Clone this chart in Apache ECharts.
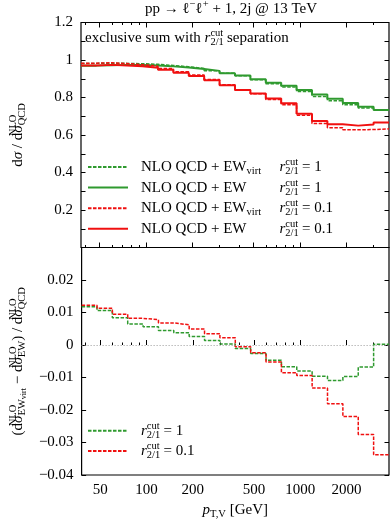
<!DOCTYPE html>
<html><head><meta charset="utf-8">
<script src="https://cdn.jsdelivr.net/npm/echarts@6/dist/echarts.min.js"></script>
<style>html,body{margin:0;padding:0;background:#fff}#c{width:390px;height:521px}</style>
</head><body><div id="c"></div>
<script>
// bin edges in GeV (log-uniform bins)
const binEdges = [37.8, 47.6, 59.9, 75.4, 94.9, 119.5, 150.4, 189.3, 238.3, 300.0, 377.7, 475.5, 598.6, 753.6, 948.7, 1194, 1503, 1892, 2382, 2999, 3776];
// top panel: ratio to NLO QCD
const ewVirtR1  = [0.982, 0.983, 0.982, 0.980, 0.977, 0.971, 0.964, 0.955, 0.943, 0.929, 0.916, 0.895, 0.874, 0.856, 0.832, 0.806, 0.783, 0.761, 0.744, 0.733];
const ewR1      = [0.970, 0.972, 0.974, 0.974, 0.971, 0.966, 0.960, 0.952, 0.942, 0.929, 0.917, 0.898, 0.879, 0.863, 0.840, 0.816, 0.794, 0.771, 0.751, 0.733];
const ewVirtR01 = [0.983, 0.985, 0.981, 0.975, 0.967, 0.955, 0.938, 0.920, 0.896, 0.868, 0.840, 0.820, 0.790, 0.761, 0.705, 0.662, 0.639, 0.628, 0.629, 0.633];
const ewR01     = [0.971, 0.974, 0.971, 0.967, 0.959, 0.948, 0.932, 0.915, 0.892, 0.866, 0.840, 0.822, 0.795, 0.769, 0.714, 0.675, 0.657, 0.650, 0.656, 0.667];
// bottom panel: (EWvirt - EW) / QCD
const diffR1  = [0.0118, 0.0106, 0.0084, 0.0065, 0.0056, 0.0045, 0.0038, 0.0026, 0.0014, 0.0003, -0.0011, -0.0026, -0.0047, -0.0067, -0.0080, -0.0096, -0.0109, -0.0097, -0.0068, 0.0002];
const diffR01 = [0.0122, 0.0113, 0.0095, 0.0082, 0.0078, 0.0068, 0.0062, 0.0049, 0.0035, 0.0022, -0.0005, -0.0024, -0.0052, -0.0085, -0.0094, -0.0132, -0.0181, -0.0220, -0.0275, -0.0338];
// x tick values (GeV)
const xMajorTicks = [50, 100, 200, 500, 1000, 2000];
const xMinorTicks = [40, 60, 70, 80, 90, 300, 400, 600, 700, 800, 900, 3000];

const F = "'Liberation Serif', serif";
const C = '#000';
const GREEN = '#2f9a2f', RED = '#f01010';
const L = v => Math.log10(v);
const xmin = L(binEdges[0]), xmax = L(binEdges[binEdges.length - 1]);

function steps(vals) {
  const pts = vals.map((v, i) => [L(binEdges[i]), v]);
  pts.push([L(binEdges[binEdges.length - 1]), vals[vals.length - 1]]);
  return pts;
}

function st(o) { return Object.assign({fontFamily: F, color: C, fontWeight: 'normal', fontStyle: 'normal'}, o); }
const R = {
  t:   st({fontSize: 15, lineHeight: 20}),
  it:  st({fontSize: 15, lineHeight: 20, fontStyle: 'italic'}),
  sup: st({fontSize: 10.5, lineHeight: 10, verticalAlign: 'top'}),
  sub: st({fontSize: 10.5, lineHeight: 11, verticalAlign: 'bottom'}),
  zs:  st({fontSize: 10.5, lineHeight: 9, verticalAlign: 'top', width: 0.01}),
  z:   st({fontSize: 10.5, lineHeight: 11, verticalAlign: 'bottom', width: 0.01}),
  ssb: st({fontSize: 8, lineHeight: 5, verticalAlign: 'bottom'}),
  vw:  st({fontSize: 10.5, lineHeight: 11, verticalAlign: 'bottom', width: 33}),
  vs:  st({fontSize: 10.5, lineHeight: 11, width: 33}),
  g:   st({fontSize: 10, lineHeight: 11, width: 8})
};

const rr = '{it|r}{z|2/1}{sup|cut}';
const legendText = {
  gV1:  '{g| }{t|NLO QCD + EW}{vw|virt}' + rr + '{t| = 1}',
  gE1:  '{g| }{t|NLO QCD + EW}{vs| }' + rr + '{t| = 1}',
  rV01: '{g| }{t|NLO QCD + EW}{vw|virt}' + rr + '{t| = 0.1}',
  rE01: '{g| }{t|NLO QCD + EW}{vs| }' + rr + '{t| = 0.1}',
  dR1:  '{g| }' + rr + '{t| = 1}',
  dR01: '{g| }' + rr + '{t| = 0.1}'
};

function xAx(grid, pos, ticks, len, labels) {
  return {
    type: 'value', gridIndex: grid, position: pos, min: xmin, max: xmax,
    axisLine: {show: false}, splitLine: {show: false},
    axisTick: {show: true, inside: true, length: len, customValues: ticks.map(L), lineStyle: {color: C, width: 1}},
    axisLabel: labels ? {show: true, customValues: ticks.map(L), margin: 8, fontFamily: F, fontSize: 15, color: C,
      formatter: v => String(Math.round(Math.pow(10, v)))} : {show: false}
  };
}

function fmtY(v, hide) {
  const r = Math.round(v * 1000) / 1000;
  if (hide.some(h => Math.abs(h - r) < 1e-9)) return '';
  return String(r).replace('-', '−');
}

function yAx(grid, pos, min, max, interval, minor, hide, labels, extra) {
  return Object.assign({
    type: 'value', gridIndex: grid, position: pos, min: min, max: max, interval: interval,
    axisLine: {show: false}, splitLine: {show: false},
    axisTick: {show: true, inside: true, length: 4.5, lineStyle: {color: C, width: 1}},
    minorTick: {show: minor > 1, splitNumber: minor, length: 4.5, lineStyle: {color: C, width: 1}},
    axisLabel: labels ? {show: true, margin: 8, fontFamily: F, fontSize: 15, color: C, formatter: v => fmtY(v, hide)} : {show: false}
  }, extra || {});
}

function ser(name, xi, yi, data, color, dashed, width) {
  return {
    name: name, type: 'line', xAxisIndex: xi, yAxisIndex: yi, data: steps(data), step: 'end',
    symbol: 'none', showSymbol: false, animation: false, silent: true,
    lineStyle: {color: color, width: width, type: dashed ? [3.5, 1.5] : 'solid'},
    itemStyle: {color: color}
  };
}

const zeroLine = {
  silent: true, symbol: 'none', label: {show: false}, animation: false,
  lineStyle: {color: '#999', type: [1, 2], width: 1},
  data: [{yAxis: 0}]
};

const bottomG = ser('dR1', 4, 2, diffR1, GREEN, true, 1.5);
bottomG.markLine = zeroLine;

const legendCommon = {
  orient: 'vertical', left: 87, padding: 0, itemWidth: 40, itemHeight: 14, selectedMode: false,
  itemStyle: {opacity: 0}, formatter: n => legendText[n], textStyle: {rich: R, fontWeight: 'normal'}
};

const chart = echarts.init(document.getElementById('c'), null, {renderer: 'canvas'});
chart.setOption({
  animation: false,
  backgroundColor: '#fff',
  title: [
    {text: '{t|pp → ℓ}{sup|−}{t|ℓ}{sup|+}{t| + 1, 2j @ 13 TeV}', left: 231, top: -1, textAlign: 'center', padding: 0,
     textStyle: {rich: R, fontWeight: 'normal'}},
    {text: '{t|exclusive sum with }' + rr + '{t| separation}', left: 85, top: 28, padding: 0,
     textStyle: {rich: R, fontWeight: 'normal'}}
  ],
  grid: [
    {left: 72, right: 1, top: 22.5, height: 225, show: true, borderColor: C, borderWidth: 1.2, backgroundColor: 'transparent'},
    {left: 72, right: 1, top: 247.5, height: 228, show: true, borderColor: C, borderWidth: 1.2, backgroundColor: 'transparent'}
  ],
  legend: [
    Object.assign({}, legendCommon, {top: 157, itemGap: 0.6, data: ['gV1', 'gE1', 'rV01', 'rE01']}),
    Object.assign({}, legendCommon, {top: 420.7, itemGap: 0.4, data: ['dR1', 'dR01']})
  ],
  xAxis: [
    xAx(0, 'bottom', xMajorTicks, 5, false),
    xAx(0, 'bottom', xMinorTicks, 2.5, false),
    xAx(0, 'top', xMajorTicks, 5, false),
    xAx(0, 'top', xMinorTicks, 2.5, false),
    Object.assign(xAx(1, 'bottom', xMajorTicks, 5, true), {
      name: '{it|p}{sub|T,V}{t| [GeV]}', nameLocation: 'middle', nameGap: 25, nameTextStyle: {rich: R}}),
    xAx(1, 'bottom', xMinorTicks, 2.5, false)
  ],
  yAxis: [
    yAx(0, 'left', 0, 1.2, 0.2, 2, [0], true, {
      name: '{t|d}{it|σ}{t| / d}{it|σ}{zs|NLO}{sub|QCD}', nameLocation: 'middle', nameRotate: 90, nameGap: 53,
      nameTextStyle: {rich: R}}),
    yAx(0, 'right', 0, 1.2, 0.2, 2, [], false),
    yAx(1, 'left', -0.04, 0.03, 0.01, 0, [0.03], true, {
      name: '{t|(d}{it|σ}{zs|NLO}{sub|EW}{ssb|virt}{t| − d}{it|σ}{zs|NLO}{sub|EW}{t|) / d}{it|σ}{zs|NLO}{sub|QCD}',
      nameLocation: 'middle', nameRotate: 90, nameGap: 53, nameTextStyle: {rich: R}}),
    yAx(1, 'right', -0.04, 0.03, 0.01, 0, [], false)
  ],
  series: [
    ser('gV1', 0, 0, ewVirtR1, GREEN, true, 1.5),
    ser('gE1', 0, 0, ewR1, GREEN, false, 2),
    ser('rV01', 0, 0, ewVirtR01, RED, true, 1.5),
    ser('rE01', 0, 0, ewR01, RED, false, 2),
    bottomG,
    ser('dR01', 4, 2, diffR01, RED, true, 1.5)
  ]
});
</script></body></html>
